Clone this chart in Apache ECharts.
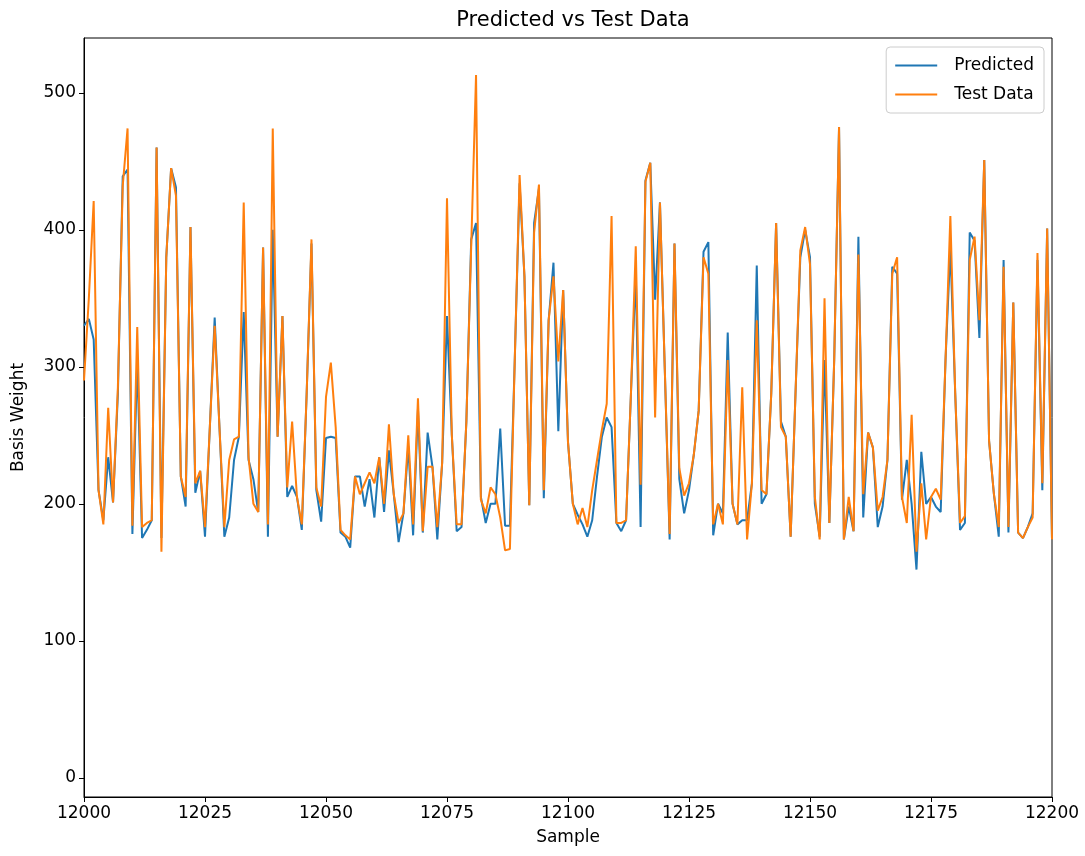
<!DOCTYPE html>
<html>
<head>
<meta charset="utf-8">
<script src="https://cdn.jsdelivr.net/npm/echarts@6/dist/echarts.min.js"></script>
<style>
html,body{margin:0;padding:0;background:#fff;}
#chart{width:1085px;height:856px;}
</style>
</head>
<body>
<div id="chart"></div>
<script>
var startSample = 12000;
var predicted = [
330,335,320,210,188,234,201,280,439,444,
178,305,175,181,188,460,175,380,445,431,
220,198,402,208,224,176,256,336,255,176,
190,232,249,340,232,218,194,387,176,400,
249,337,205,213,205,181,280,390,210,187,
248,249,248,179,176,168,220,220,198,218,
190,234,194,239,207,172,193,242,177,269,
179,252,227,174,230,337,250,180,183,260,
393,405,205,186,200,200,255,184,184,305,
434,366,199,405,430,204,334,376,253,356,
245,200,192,185,176,188,220,249,263,256,
186,180,188,280,369,183,436,449,349,420,
298,174,390,218,193,210,236,268,384,391,
177,200,193,325,200,185,188,188,215,374,
200,207,281,405,260,249,176,280,380,400,
380,200,176,305,186,305,475,174,198,180,
395,190,252,241,183,198,232,373,368,203,
232,200,152,238,200,205,198,194,305,387,
281,181,186,398,392,321,451,246,207,176,
378,179,347,179,175,183,193,378,210,401,
174];
var testData = [
290,350,421,210,185,270,201,285,432,474,
184,329,183,186,188,460,165,380,445,425,
220,205,402,215,224,183,256,330,255,183,
232,247,249,420,234,200,194,387,185,474,
249,337,212,260,205,185,280,393,212,198,
278,303,256,181,177,174,220,207,215,223,
215,234,200,258,207,186,193,250,185,277,
180,227,227,183,230,423,250,185,185,260,
388,513,203,193,212,207,190,166,167,305,
440,366,199,398,433,210,334,366,304,356,
245,200,185,197,183,210,232,254,273,410,
186,186,188,280,388,214,435,449,263,420,
298,178,390,226,206,215,236,268,380,368,
185,200,185,305,200,185,285,174,215,334,
210,207,281,405,256,249,176,280,385,402,
375,205,174,350,186,305,475,174,205,180,
382,207,252,241,195,205,232,368,380,205,
186,265,165,215,174,205,211,203,305,410,
281,186,191,378,395,334,451,246,207,183,
373,183,347,179,175,183,190,383,215,401,
174];
var yTickLabels = [0, 100, 200, 300, 400, 500];

function toPairs(arr) {
  var out = [];
  for (var i = 0; i < arr.length; i++) out.push([startSample + i, arr[i]]);
  return out;
}

var chart = echarts.init(document.getElementById('chart'), null, {renderer: 'canvas'});
var font = 'DejaVu Sans';
chart.setOption({
  backgroundColor: '#ffffff',
  animation: false,
  title: {
    text: 'Predicted vs Test Data',
    left: 568, top: 5, textAlign: 'center',
    textStyle: {fontFamily: font, fontSize: 21, fontWeight: 'normal', color: '#000'}
  },
  legend: {
    orient: 'vertical',
    right: 41, top: 47,
    padding: [9, 10, 9, 9],
    icon: 'rect',
    itemWidth: 42, itemHeight: 2, itemGap: 10,
    borderColor: '#cccccc', borderWidth: 1, borderRadius: 4,
    backgroundColor: 'rgba(255,255,255,0.8)',
    textStyle: {fontFamily: font, fontSize: 17, color: '#000', lineHeight: 19, padding: [0, 0, 0, 12]},
    data: ['Predicted', 'Test Data']
  },
  grid: {
    left: 84, right: 33, top: 38, bottom: 59,
    show: true, borderColor: '#000', borderWidth: 1, backgroundColor: 'transparent'
  },
  xAxis: {
    type: 'value', min: 12000, max: 12200, interval: 25,
    name: 'Sample', nameLocation: 'middle', nameGap: 32,
    nameTextStyle: {fontFamily: font, fontSize: 17, color: '#000'},
    axisLine: {show: true, onZero: false, lineStyle: {color: '#000', width: 1}},
    axisTick: {show: true, length: 5, lineStyle: {color: '#000'}},
    axisLabel: {fontFamily: font, fontSize: 17, color: '#000', margin: 8,
      showMinLabel: true, showMaxLabel: true,
      formatter: function (v) { return String(v); }},
    splitLine: {show: false}
  },
  yAxis: {
    type: 'value', min: -14, max: 540,
    name: 'Basis Weight', nameLocation: 'middle', nameGap: 57,
    nameTextStyle: {fontFamily: font, fontSize: 17, color: '#000'},
    axisLine: {show: true, onZero: false, lineStyle: {color: '#000', width: 1}},
    axisTick: {show: true, length: 5, lineStyle: {color: '#000'}, customValues: yTickLabels},
    axisLabel: {fontFamily: font, fontSize: 17, color: '#000', margin: 8, customValues: yTickLabels},
    splitLine: {show: false}
  },
  series: [
    {
      name: 'Predicted', type: 'line', data: toPairs(predicted),
      symbol: 'none', lineStyle: {color: '#1f77b4', width: 2}, itemStyle: {color: '#1f77b4'}
    },
    {
      name: 'Test Data', type: 'line', data: toPairs(testData),
      symbol: 'none', lineStyle: {color: '#ff7f0e', width: 2}, itemStyle: {color: '#ff7f0e'}
    }
  ]
});
</script>
</body>
</html>
